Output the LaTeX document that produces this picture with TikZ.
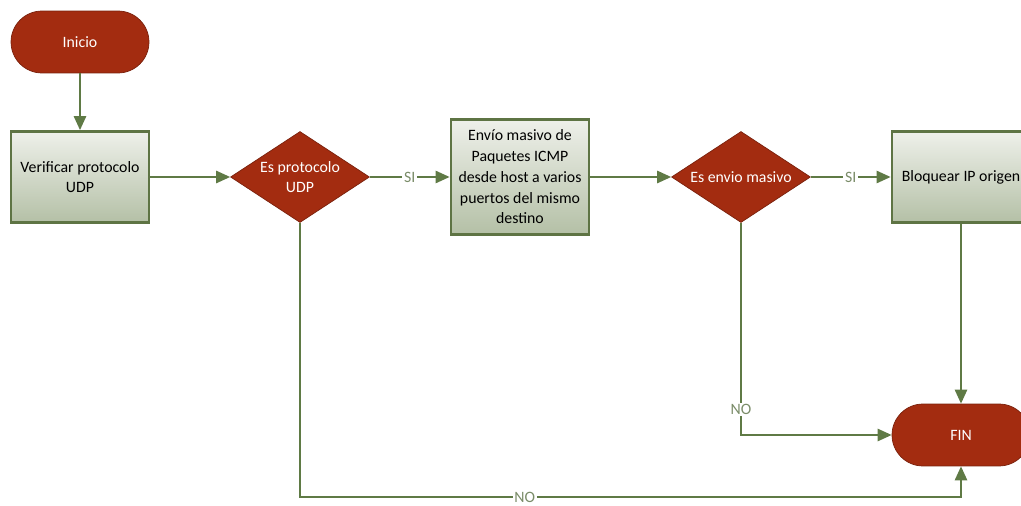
\documentclass[tikz,border=0pt]{standalone}
\usepackage{fontspec}
\setmainfont{Carlito}
\usetikzlibrary{shapes.geometric,arrows.meta}

\definecolor{rojo}{HTML}{A32C10}
\definecolor{verde}{HTML}{5F7A45}
\definecolor{borde}{HTML}{5E7444}
\definecolor{grisclaro}{HTML}{EEF0EA}
\definecolor{verdeclaro}{HTML}{B4C0A6}
\definecolor{verdetexto}{HTML}{7A8C68}

\begin{document}
\begin{tikzpicture}[x = 0.02cm, y = -0.02cm,
		font = \fontsize{9}{11.8}\selectfont,
		terminal/.style = {draw = rojo!75!black, fill = rojo, text = white, rounded corners = 0.62cm, minimum width = 2.76cm, minimum height = 1.24cm},
		caja/.style = {draw = borde, line width = 1.6pt, top color = grisclaro, bottom color = verdeclaro, minimum width = 2.76cm, minimum height = 1.82cm, align = center},
		decision/.style = {diamond, aspect = 1.53, inner sep = 0pt, minimum width = 2.78cm, minimum height = 1.82cm, draw = rojo!75!black, fill = rojo, text = white, align = center},
		flecha/.style = {draw = verde, line width = 1.1pt, -{Triangle[length = 8pt, width = 7pt]}},
		etiq/.style = {fill = white, text = verdetexto, inner sep = 1pt}]
		\useasboundingbox (0,0) rectangle (1021,506);
		\node[terminal] (ini) at (80,42) {Inicio};
		\node[caja] (ver) at (80,177) {Verificar protocolo\\UDP};
		\node[decision] (d1) at (300,177) {Es protocolo\\UDP};
		\node[caja, minimum height = 2.3cm] (env) at (520,177) {Envío masivo de\\Paquetes ICMP\\desde host a varios\\puertos del mismo\\destino};
		\node[decision] (d2) at (741,177) {Es envio masivo};
		\node[caja] (blq) at (961,177) {Bloquear IP origen};
		\node[terminal] (fin) at (961,435) {FIN};
		\coordinate (abajo) at (961,497);
		\draw[flecha] (ini) -- (ver);
		\draw[flecha] (ver) -- (d1);
		\draw[flecha] (d1) -- node[etiq] {SI} (env);
		\draw[flecha] (env) -- (d2);
		\draw[flecha] (d2) -- node[etiq] {SI} (blq);
		\draw[flecha] (blq) -- (fin);
		\draw[flecha] (d2.south) |- node[etiq, pos = 0.44] {NO} (fin);
		\draw[flecha] (d1.south) |- node[etiq, pos = 0.67] {NO} (abajo) -- (fin.south);
	\end{tikzpicture}
\end{document}
